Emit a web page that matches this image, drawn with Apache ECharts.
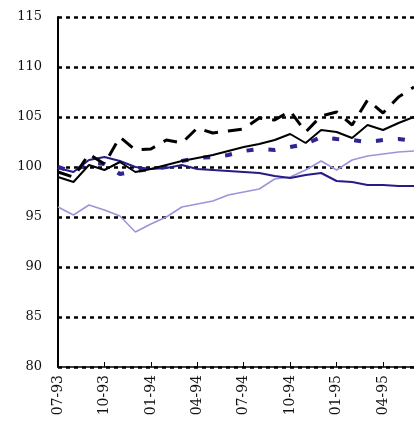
<!DOCTYPE html>
<html style="height: 100%">
<head>
<meta charset="utf-8">
<script src="https://cdn.jsdelivr.net/npm/echarts@6/dist/echarts.min.js"></script>
</head>
<body style="height: 100%; margin: 0; background: #fff">
<div id="container" style="width: 414px; height: 430px"></div>
<script type="text/javascript">
// monthly, 07-93 .. 06-95
var months = ['07-93','08-93','09-93','10-93','11-93','12-93',
              '01-94','02-94','03-94','04-94','05-94','06-94',
              '07-94','08-94','09-94','10-94','11-94','12-94',
              '01-95','02-95','03-95','04-95','05-95','06-95'];

var blackDashed = [99.5, 99.0, 101.3, 100.3, 103.0, 101.7, 101.8, 102.7, 102.4, 103.9, 103.4, 103.6,
                   103.8, 104.9, 104.7, 105.6, 103.5, 105.1, 105.5, 104.2, 106.7, 105.4, 107.0, 108.0];
var blackSolid = [99.0, 98.5, 100.2, 99.7, 100.5, 99.5, 99.8, 100.2, 100.6, 100.9, 101.2, 101.6,
                  102.0, 102.3, 102.7, 103.3, 102.4, 103.7, 103.5, 102.9, 104.2, 103.7, 104.4, 105.0];
var navyDotted = [100.0, 99.5, 100.5, 100.3, 99.3, 99.6, 99.8, 100.0, 100.6, 100.9, 101.0, 101.2,
                  101.6, 101.8, 101.7, 102.0, 102.3, 103.0, 102.8, 102.7, 102.5, 102.7, 102.8, 102.6];
var navySolid = [99.9, 99.5, 100.7, 101.0, 100.6, 100.0, 99.8, 99.9, 100.2, 99.8, 99.7, 99.6,
                 99.5, 99.4, 99.1, 98.9, 99.2, 99.4, 98.6, 98.5, 98.2, 98.2, 98.1, 98.1];
var lightLine = [96.0, 95.2, 96.2, 95.7, 95.1, 93.5, 94.3, 95.0, 96.0, 96.3, 96.6, 97.2,
                 97.5, 97.8, 98.8, 99.0, 99.7, 100.6, 99.7, 100.7, 101.1, 101.3, 101.5, 101.6];

var myChart = echarts.init(document.getElementById('container'));

function line(data, color, width, type, z) {
    return {
        type: 'line',
        data: data,
        symbol: 'none',
        z: z,
        lineStyle: { color: color, width: width, type: type }
    };
}

var option = {
    animation: false,
    backgroundColor: '#fff',
    grid: { left: 58, top: 17, bottom: 63, right: -7 },
    xAxis: {
        type: 'category',
        data: months,
        boundaryGap: false,
        axisLine: { lineStyle: { color: '#000', width: 1.5 } },
        axisTick: { inside: true, length: 5, interval: 2, lineStyle: { color: '#000' } },
        axisLabel: {
            interval: 2,
            rotate: 90,
            margin: 8,
            color: '#111',
            fontFamily: 'DejaVu Serif',
            fontSize: 14
        },
        splitLine: { show: false }
    },
    yAxis: {
        type: 'value',
        min: 80,
        max: 115,
        interval: 5,
        axisLine: { show: true, lineStyle: { color: '#000', width: 2 } },
        axisTick: { show: false },
        axisLabel: {
            margin: 16,
            color: '#111',
            fontFamily: 'DejaVu Serif',
            fontSize: 13
        },
        splitLine: { lineStyle: { color: '#000', width: 2.5, type: [4, 4] } }
    },
    series: [
        line(lightLine, '#9d94d8', 1.5, 'solid', 2),
        line(navySolid, '#261c86', 2, 'solid', 3),
        line(navyDotted, '#2e2590', 4, [7, 15], 4),
        line(blackSolid, '#000', 2, 'solid', 5),
        line(blackDashed, '#000', 3, [14, 10], 6)
    ]
};

myChart.setOption(option);
</script>
</body>
</html>
